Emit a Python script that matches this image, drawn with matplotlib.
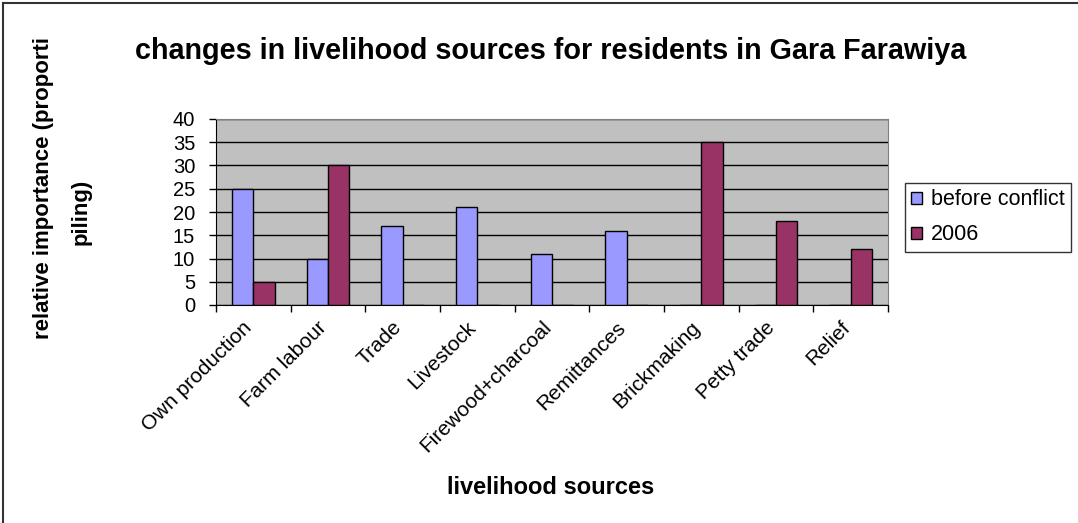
import numpy as np
import matplotlib
matplotlib.use("Agg")
import matplotlib.pyplot as plt
import matplotlib.transforms as mtransforms
from matplotlib.lines import Line2D

plt.rcParams['font.family'] = ['Liberation Sans', 'DejaVu Sans']

categories = ["Own production", "Farm labour", "Trade", "Livestock", "Firewood+charcoal",
              "Remittances", "Brickmaking", "Petty trade", "Relief"]
before_conflict = [25, 10, 17, 21, 11, 16, 0, 0, 0]
y2006 = [5, 30, 0, 0, 0, 0, 35, 18, 12]
series_names = ["before conflict", "2006"]
y_ticks = [0, 5, 10, 15, 20, 25, 30, 35, 40]

fig = plt.figure(figsize=(10.78, 5.23), dpi=100)
ax = fig.add_axes([216 / 1078, 1 - 305 / 523, (888 - 216) / 1078, (305 - 119) / 523])

x = np.arange(len(categories))
w = 1 / 3.5
ax.set_facecolor("#C0C0C0")
ax.bar(x - w / 2, before_conflict, w, color="#9999FF", edgecolor="black", linewidth=1,
       label=series_names[0], zorder=3)
ax.bar(x + w / 2, y2006, w, color="#993366", edgecolor="black", linewidth=1,
       label=series_names[1], zorder=3)

ax.set_xlim(-0.5, len(categories) - 0.5)
ax.set_ylim(0, 40)
ax.set_yticks(y_ticks)
ax.set_yticklabels([str(v) for v in y_ticks], fontsize=14.5)
ax.yaxis.grid(True, color="black", linewidth=1, zorder=0)
ax.set_axisbelow(True)

# category ticks sit between groups, labels at centres
ax.set_xticks(np.arange(-0.5, len(categories), 1.0))
ax.set_xticklabels([])
ax.set_xticks(x, minor=True)
ax.set_xticklabels(categories, minor=True, rotation=45, ha="right", va="center",
                   rotation_mode="anchor", fontsize=15)
ax.tick_params(axis="x", which="minor", length=0, pad=14)
ax.tick_params(axis="x", which="major", length=5, direction="out", width=1)
ax.tick_params(axis="y", length=5, direction="out", width=1, pad=10)
shift = mtransforms.ScaledTranslation(-4 / 100, 0, fig.dpi_scale_trans)
for lab in ax.get_xticklabels(minor=True):
    lab.set_transform(lab.get_transform() + shift)

for s in ["top", "right"]:
    ax.spines[s].set_color("#808080")
for s in ["left", "bottom"]:
    ax.spines[s].set_color("black")

fig.text(551 / 1078, 1 - 51 / 523, "changes in livelihood sources for residents in Gara Farawiya",
         ha="center", va="center", fontsize=20.7, fontweight="bold")
fig.text(551 / 1078, 1 - 487 / 523, "livelihood sources", ha="center", va="center",
         fontsize=17, fontweight="bold")
fig.text(44 / 1078, 1 - 188 / 523, "relative importance (proporti", rotation=90,
         ha="center", va="center", fontsize=16, fontweight="bold")
fig.text(81 / 1078, 1 - 212 / 523, "piling)", rotation=90,
         ha="center", va="center", fontsize=16, fontweight="bold")

leg = fig.legend(loc="upper left", bbox_to_anchor=(905 / 1078, 1 - 183 / 523),
                 fontsize=15.5, frameon=True, fancybox=False, shadow=False,
                 handlelength=0.5, handleheight=0.5, handletextpad=0.4,
                 borderpad=0.3, labelspacing=0.65, borderaxespad=0)
leg.get_frame().set_edgecolor("black")
leg.get_frame().set_linewidth(1)

# outer chart border (left and top visible)
fig.add_artist(Line2D([3 / 1078, 3 / 1078], [0, 1 - 3 / 523], color="#333333", linewidth=1.5))
fig.add_artist(Line2D([3 / 1078, 1], [1 - 3 / 523, 1 - 3 / 523], color="#333333", linewidth=1.5))

fig.savefig("out.png", dpi=100)
